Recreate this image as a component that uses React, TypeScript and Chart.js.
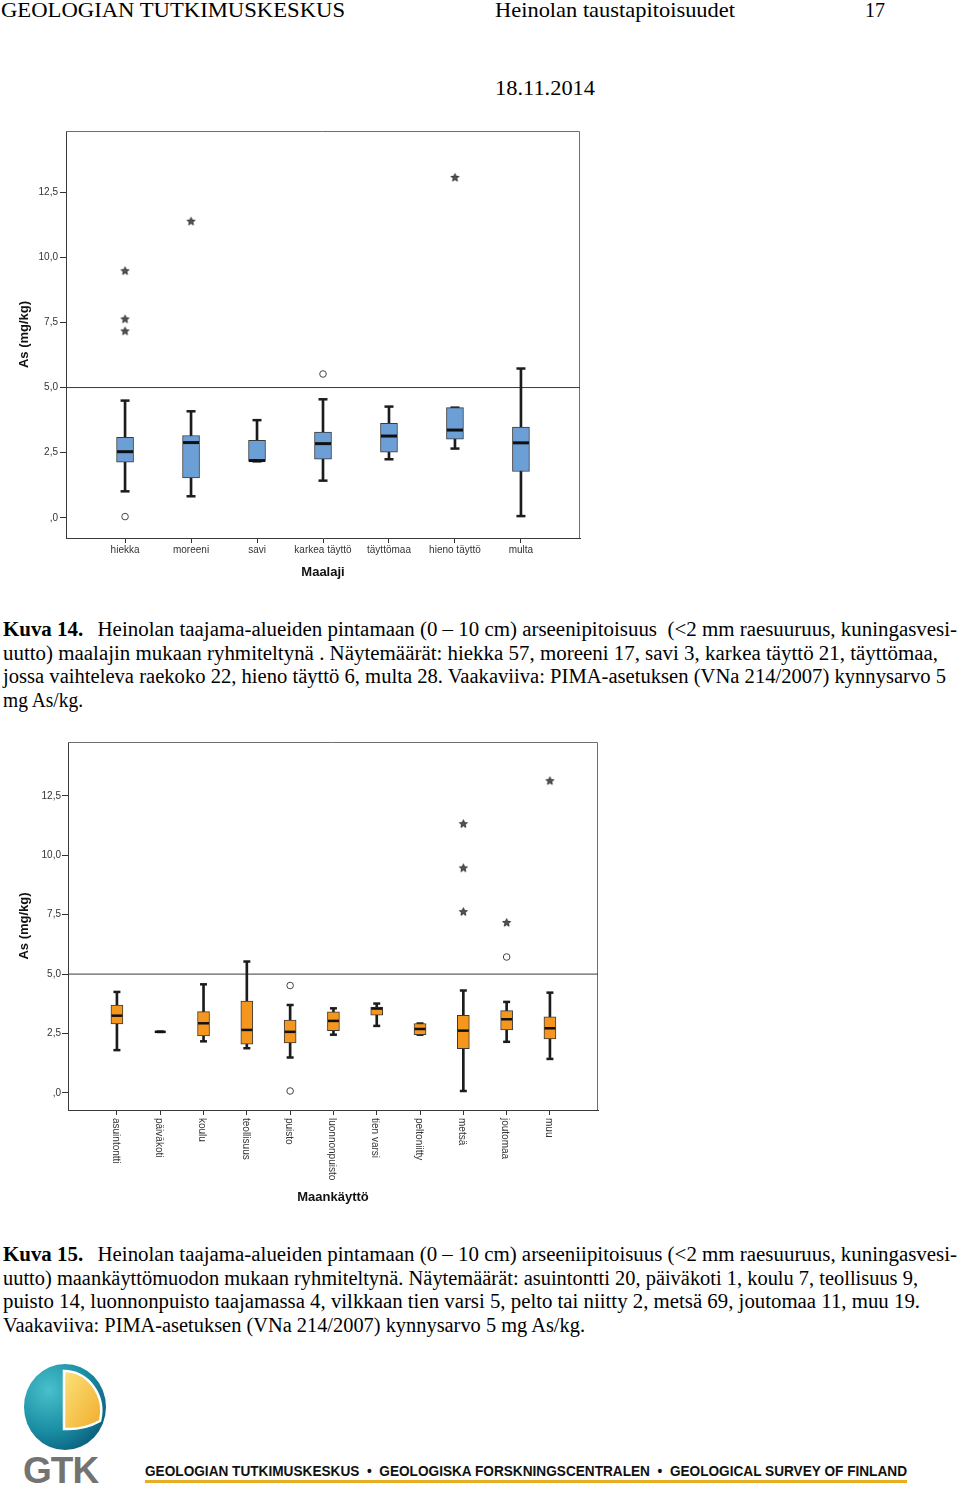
import React, { useEffect, useLayoutEffect, useRef } from "react";
import { Chart, registerables } from "chart.js";

Chart.register(...registerables);

// ---------- shared axis data ----------
const yTickValues = [0, 2.5, 5, 7.5, 10, 12.5];
const thresholdValue = 5;
const yAxisTitle = "As (mg/kg)";

// ---------- Kuva 14: maalaji ----------
const soilCategories = ["hiekka", "moreeni", "savi", "karkea täyttö", "täyttömaa", "hieno täyttö", "multa"];
const soilMin = [1.02, 0.83, 2.17, 1.43, 2.25, 2.66, 0.07];
const soilQ1 = [2.14, 1.53, 2.17, 2.25, 2.52, 3.02, 1.78];
const soilMedian = [2.54, 2.89, 2.2, 2.85, 3.14, 3.37, 2.88];
const soilQ3 = [3.09, 3.16, 2.98, 3.29, 3.63, 4.23, 3.48];
const soilMax = [4.5, 4.09, 3.75, 4.55, 4.27, 4.23, 5.73];
const soilOutlierCat = [0, 3];
const soilOutlierVal = [0.05, 5.52];
const soilExtremeCat = [0, 0, 0, 1, 5];
const soilExtremeVal = [9.48, 7.63, 7.17, 11.38, 13.06];

// ---------- Kuva 15: maankäyttö ----------
const landCategories = ["asuintontti", "päiväkoti", "koulu", "teollisuus", "puisto", "luonnonpuisto", "tien varsi", "peltoniitty", "metsä", "joutomaa", "muu"];
const landMin = [1.8, 2.57, 2.17, 1.88, 1.49, 2.45, 2.82, 2.45, 0.08, 2.15, 1.43];
const landQ1 = [2.9, 2.57, 2.4, 2.05, 2.1, 2.62, 3.27, 2.45, 1.86, 2.65, 2.27];
const landMedian = [3.25, 2.57, 2.93, 2.65, 2.57, 3.03, 3.55, 2.69, 2.62, 3.1, 2.72];
const landQ3 = [3.7, 2.57, 3.42, 3.86, 3.06, 3.41, 3.61, 2.92, 3.27, 3.46, 3.2];
const landMax = [4.25, 2.57, 4.57, 5.53, 3.7, 3.56, 3.76, 2.92, 4.31, 3.83, 4.22];
const landOutlierCat = [4, 4, 9];
const landOutlierVal = [4.52, 0.08, 5.72];
const landExtremeCat = [8, 8, 8, 9, 10];
const landExtremeVal = [11.33, 9.47, 7.63, 7.17, 13.14];

const caption1Lines = [
  "Heinolan taajama-alueiden pintamaan (0 – 10 cm) arseenipitoisuus  (<2 mm raesuuruus, kuningasvesi-",
  "uutto) maalajin mukaan ryhmiteltynä . Näytemäärät: hiekka 57, moreeni 17, savi 3, karkea täyttö 21, täyttömaa,",
  "jossa vaihteleva raekoko 22, hieno täyttö 6, multa 28. Vaakaviiva: PIMA-asetuksen (VNa 214/2007) kynnysarvo 5",
  "mg As/kg.",
];
const caption2Lines = [
  "Heinolan taajama-alueiden pintamaan (0 – 10 cm) arseeniipitoisuus (<2 mm raesuuruus, kuningasvesi-",
  "uutto) maankäyttömuodon mukaan ryhmiteltynä. Näytemäärät: asuintontti 20, päiväkoti 1, koulu 7, teollisuus 9,",
  "puisto 14, luonnonpuisto taajamassa 4, vilkkaan tien varsi 5, pelto tai niitty 2, metsä 69, joutomaa 11, muu 19.",
  "Vaakaviiva: PIMA-asetuksen (VNa 214/2007) kynnysarvo 5 mg As/kg.",
];

Chart.defaults.font.family = '"Liberation Sans", Arial, sans-serif';

function fmtTick(v: number): string {
  if (Math.abs(v) < 1e-9) return ",0";
  return v.toFixed(1).replace(".", ",");
}

function makeStar(): HTMLCanvasElement {
  const c = document.createElement("canvas");
  c.width = 11;
  c.height = 11;
  const g = c.getContext("2d")!;
  g.beginPath();
  for (let k = 0; k < 10; k++) {
    const r = k % 2 === 0 ? 4.2 : 1.8;
    const a = -Math.PI / 2 + (k * Math.PI) / 5;
    const px = 5.5 + r * Math.cos(a);
    const py = 5.8 + r * Math.sin(a);
    if (k === 0) g.moveTo(px, py);
    else g.lineTo(px, py);
  }
  g.closePath();
  g.fillStyle = "#555";
  g.fill();
  g.strokeStyle = "#1a1a1a";
  g.lineWidth = 0.8;
  g.stroke();
  return c;
}

type BoxProps = {
  categories: string[];
  mins: number[];
  q1s: number[];
  medians: number[];
  q3s: number[];
  maxs: number[];
  outCat: number[];
  outVal: number[];
  extCat: number[];
  extVal: number[];
  fill: string;
  xTitle: string;
  left: number;
  top: number;
  width: number;
  height: number;
  padTop: number;
  padRight: number;
  yAxisWidth: number;
  xAxisHeight: number;
  xMin: number;
  xMax: number;
  yMin: number;
  yMax: number;
  boxW: number;
  capW: number;
  whiskerW: number;
  medianW: number;
  rotated: boolean;
  xTitlePadBottom: number;
  yTickPad: number;
};

function BoxChart(p: BoxProps) {
  const ref = useRef<HTMLCanvasElement | null>(null);
  useEffect(() => {
    const canvas = ref.current;
    if (!canvas) return;
    const star = makeStar();
    const cats = p.categories;
    const frame = {
      id: "frame",
      beforeDatasetsDraw(chart: any) {
        const { left, top, right, bottom } = chart.chartArea;
        const ctx = chart.ctx;
        ctx.save();
        ctx.strokeStyle = "#6e6e6e";
        ctx.lineWidth = 1;
        ctx.beginPath();
        ctx.moveTo(left, top + 0.5);
        ctx.lineTo(right - 0.5, top + 0.5);
        ctx.lineTo(right - 0.5, bottom);
        ctx.stroke();
        ctx.restore();
      },
    };
    const rotLabels = {
      id: "rotLabels",
      afterDraw(chart: any) {
        if (!p.rotated) return;
        const s = chart.scales.x;
        const ctx = chart.ctx;
        ctx.save();
        ctx.font = '10px "Liberation Sans", Arial, sans-serif';
        ctx.fillStyle = "#333";
        ctx.textAlign = "left";
        ctx.textBaseline = "middle";
        cats.forEach((c, i) => {
          const x = s.getPixelForValue(i);
          ctx.save();
          ctx.translate(x - 1.5, s.top + 8);
          ctx.rotate(Math.PI / 2);
          ctx.fillText(c, 0, 0);
          ctx.restore();
        });
        ctx.restore();
      },
    };
    const chart = new Chart(canvas, {
      type: "bar",
      data: {
        datasets: [
          {
            type: "line",
            data: [
              { x: p.xMin, y: thresholdValue },
              { x: p.xMax, y: thresholdValue },
            ],
            borderColor: "#3a3a3a",
            borderWidth: 1,
            pointRadius: 0,
            order: 10,
          } as any,
          {
            type: "bar",
            data: cats.map((_, i) => ({ x: i, y: [p.mins[i], p.maxs[i]] })),
            backgroundColor: "#1c1c1c",
            borderWidth: 0,
            barThickness: p.whiskerW,
            grouped: false,
            order: 8,
          } as any,
          {
            type: "scatter",
            data: [
              ...cats.map((_, i) => ({ x: i, y: p.mins[i] })),
              ...cats.map((_, i) => ({ x: i, y: p.maxs[i] })),
            ],
            pointStyle: "line",
            pointRadius: p.capW / 2,
            borderColor: "#1c1c1c",
            borderWidth: 2.5,
            order: 7,
          } as any,
          {
            type: "bar",
            data: cats.map((_, i) => ({ x: i, y: [p.q1s[i], p.q3s[i]] })),
            backgroundColor: p.fill,
            borderColor: "#3a3a3a",
            borderWidth: 1,
            borderSkipped: false,
            barThickness: p.boxW,
            grouped: false,
            order: 6,
          } as any,
          {
            type: "scatter",
            data: cats.map((_, i) => ({ x: i, y: p.medians[i] })),
            pointStyle: "line",
            pointRadius: p.boxW / 2 - 0.5,
            borderColor: "#111",
            borderWidth: p.medianW,
            order: 5,
          } as any,
          {
            type: "scatter",
            data: p.outCat.map((c, i) => ({ x: c, y: p.outVal[i] })),
            pointStyle: "circle",
            pointRadius: 3.3,
            borderColor: "#444",
            backgroundColor: "#fff",
            borderWidth: 1,
            order: 4,
          } as any,
          {
            type: "scatter",
            data: p.extCat.map((c, i) => ({ x: c, y: p.extVal[i] })),
            pointStyle: star,
            order: 3,
          } as any,
        ],
      },
      options: {
        animation: false,
        responsive: false,
        maintainAspectRatio: false,
        events: [],
        layout: { padding: { top: p.padTop, right: p.padRight, left: 0, bottom: 0 } },
        plugins: { legend: { display: false }, tooltip: { enabled: false } },
        scales: {
          x: {
            type: "linear",
            min: p.xMin,
            max: p.xMax,
            offset: false,
            afterBuildTicks: (s: any) => {
              s.ticks = cats.map((_, i) => ({ value: i }));
            },
            afterFit: (s: any) => {
              s.height = p.xAxisHeight;
            },
            ticks: {
              display: !p.rotated,
              autoSkip: false,
              maxRotation: 0,
              minRotation: 0,
              padding: 1,
              color: "#333",
              font: { size: 10 },
              callback: (_v: any, i: number) => cats[i] ?? "",
            },
            grid: {
              display: true,
              drawOnChartArea: false,
              drawTicks: true,
              tickLength: 5,
              color: "#333",
              offset: false,
            },
            border: { display: true, color: "#3a3a3a", width: 1 },
            title: {
              display: true,
              text: p.xTitle,
              color: "#111",
              font: { size: 13, weight: "bold" },
              padding: { top: 0, bottom: p.xTitlePadBottom },
            },
          } as any,
          y: {
            type: "linear",
            min: p.yMin,
            max: p.yMax,
            afterBuildTicks: (s: any) => {
              s.ticks = yTickValues.map((v) => ({ value: v }));
            },
            afterFit: (s: any) => {
              s.width = p.yAxisWidth;
            },
            ticks: {
              padding: p.yTickPad,
              color: "#333",
              font: { size: 10 },
              callback: (v: any) => fmtTick(Number(v)),
            },
            grid: {
              display: true,
              drawOnChartArea: false,
              drawTicks: true,
              tickLength: 6,
              color: "#333",
            },
            border: { display: true, color: "#3a3a3a", width: 1 },
            title: {
              display: true,
              text: yAxisTitle,
              color: "#111",
              font: { size: 13, weight: "bold" },
              padding: { top: 17, bottom: 0 },
            },
          } as any,
        },
      },
      plugins: [frame, rotLabels],
    });
    return () => chart.destroy();
  }, []);
  return (
    <div style={{ position: "absolute", left: p.left, top: p.top, width: p.width, height: p.height }}>
      <canvas ref={ref} width={p.width} height={p.height} style={{ width: p.width, height: p.height, display: "block" }} />
    </div>
  );
}

// Text line that is horizontally fitted to a target width (the source uses a condensed face).
function FitText({
  left,
  top,
  width,
  style,
  children,
}: {
  left: number;
  top: number;
  width: number;
  style?: React.CSSProperties;
  children: React.ReactNode;
}) {
  const ref = useRef<HTMLSpanElement | null>(null);
  useLayoutEffect(() => {
    const el = ref.current;
    if (!el) return;
    const fit = () => {
      el.style.transform = "none";
      const w = el.getBoundingClientRect().width;
      if (w > 0) el.style.transform = `scaleX(${width / w})`;
    };
    fit();
    if ((document as any).fonts && (document as any).fonts.ready) {
      (document as any).fonts.ready.then(fit);
    }
  }, []);
  return (
    <span
      ref={ref}
      style={{
        position: "absolute",
        left,
        top,
        whiteSpace: "pre",
        display: "inline-block",
        transformOrigin: "0 0",
        ...style,
      }}
    >
      {children}
    </span>
  );
}

function Caption({ top, label, lines, widths }: { top: number; label: string; lines: string[]; widths: number[] }) {
  const st: React.CSSProperties = { fontSize: 20.5, lineHeight: "23.6px" };
  return (
    <>
      {lines.map((ln, i) => (
        <FitText key={i} left={3} top={top + i * 23.6} width={widths[i]} style={st}>
          {i === 0 ? <b>{label}</b> : null}
          {i === 0 ? <span style={{ marginLeft: 14 }}>{ln}</span> : ln}
        </FitText>
      ))}
    </>
  );
}

function Logo() {
  return (
    <svg width={86} height={92} viewBox="0 0 86 92" style={{ position: "absolute", left: 22, top: 1363 }}>
      <defs>
        <radialGradient id="teal" cx="0.3" cy="0.3" r="0.8">
          <stop offset="0" stopColor="#49c0cc" />
          <stop offset="0.6" stopColor="#1a8ea4" />
          <stop offset="1" stopColor="#0b5f7c" />
        </radialGradient>
        <linearGradient id="yel" x1="0" y1="0" x2="1" y2="1">
          <stop offset="0" stopColor="#fbe27a" />
          <stop offset="1" stopColor="#f1ac2c" />
        </linearGradient>
      </defs>
      <ellipse cx={43} cy={44} rx={41} ry={43} fill="url(#teal)" />
      <path d="M42,8 L42,66 Q62,67 78,58 A37,40 0 0 0 42,8 Z" fill="url(#yel)" stroke="#ffffff" strokeWidth={2.5} />
    </svg>
  );
}

export default function App() {
  const page: React.CSSProperties = {
    position: "absolute",
    left: 0,
    top: 0,
    width: 960,
    height: 1493,
    background: "#fff",
    fontFamily: '"Liberation Serif", "Times New Roman", serif',
    color: "#000",
    overflow: "hidden",
  };
  const head: React.CSSProperties = { fontSize: 22, lineHeight: "22px" };
  return (
    <div style={page}>
      <FitText left={1} top={-1} width={344} style={head}>GEOLOGIAN TUTKIMUSKESKUS</FitText>
      <FitText left={495} top={-1} width={240} style={head}>Heinolan taustapitoisuudet</FitText>
      <FitText left={865} top={-1} width={20} style={head}>17</FitText>
      <FitText left={495} top={77} width={100} style={head}>18.11.2014</FitText>

      <BoxChart
        categories={soilCategories}
        mins={soilMin}
        q1s={soilQ1}
        medians={soilMedian}
        q3s={soilQ3}
        maxs={soilMax}
        outCat={soilOutlierCat}
        outVal={soilOutlierVal}
        extCat={soilExtremeCat}
        extVal={soilExtremeVal}
        fill="#6b9fd6"
        xTitle="Maalaji"
        left={0}
        top={120}
        width={600}
        height={480}
        padTop={11}
        padRight={20}
        yAxisWidth={66}
        xAxisHeight={62}
        xMin={-0.895}
        xMax={6.895}
        yMin={-0.77}
        yMax={14.84}
        boxW={17}
        capW={9}
        whiskerW={2}
        medianW={3}
        rotated={false}
        xTitlePadBottom={20}
        yTickPad={2}
      />

      <Caption top={618} label="Kuva 14." lines={caption1Lines} widths={[954, 935, 943, 80]} />

      <BoxChart
        categories={landCategories}
        mins={landMin}
        q1s={landQ1}
        medians={landMedian}
        q3s={landQ3}
        maxs={landMax}
        outCat={landOutlierCat}
        outVal={landOutlierVal}
        extCat={landExtremeCat}
        extVal={landExtremeVal}
        fill="#f5961e"
        xTitle="Maankäyttö"
        left={0}
        top={730}
        width={620}
        height={480}
        padTop={12}
        padRight={22}
        yAxisWidth={68}
        xAxisHeight={100}
        xMin={-1.13}
        xMax={11.11}
        yMin={-0.72}
        yMax={14.77}
        boxW={12}
        capW={7}
        whiskerW={2}
        medianW={2.5}
        rotated={true}
        xTitlePadBottom={5}
        yTickPad={1}
      />

      <Caption top={1243} label="Kuva 15." lines={caption2Lines} widths={[954, 915, 917, 582]} />

      <Logo />
      <div
        style={{
          position: "absolute",
          left: 23,
          top: 1451,
          fontFamily: '"Liberation Sans", Arial, sans-serif',
          fontWeight: "bold",
          fontSize: 37,
          lineHeight: "40px",
          color: "#737373",
          letterSpacing: -1,
        }}
      >
        GTK
      </div>
      <FitText
        left={145}
        top={1462}
        width={762}
        style={{
          fontFamily: '"Liberation Sans", Arial, sans-serif',
          fontWeight: "bold",
          fontSize: 15,
          lineHeight: "18px",
          color: "#111",
        }}
      >
        GEOLOGIAN TUTKIMUSKESKUS  •  GEOLOGISKA FORSKNINGSCENTRALEN  •  GEOLOGICAL SURVEY OF FINLAND
      </FitText>
      <div style={{ position: "absolute", left: 145, top: 1480, width: 762, height: 3, background: "#e9ad22" }} />
    </div>
  );
}
